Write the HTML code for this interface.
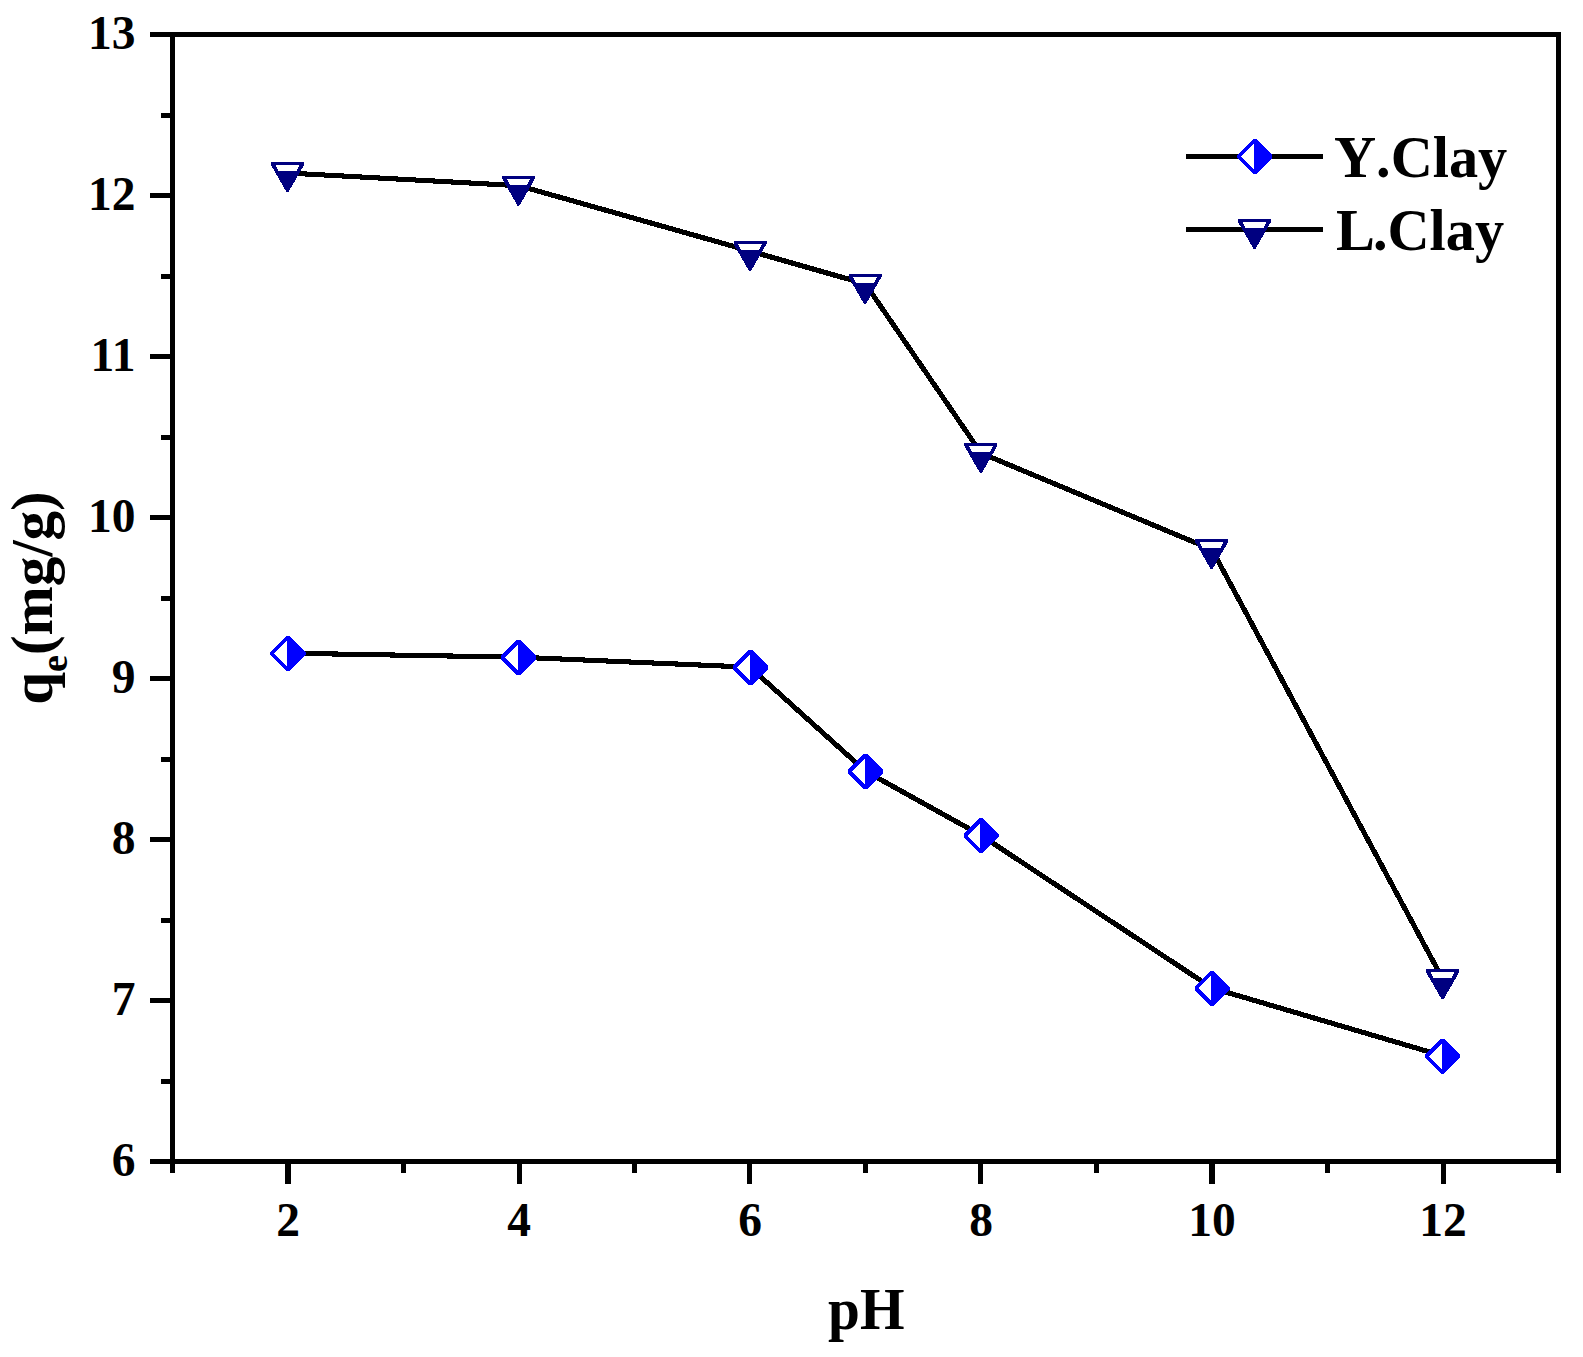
<!DOCTYPE html>
<html lang="en"><head><meta charset="utf-8"><title>qe vs pH</title>
<style>html,body{margin:0;padding:0;background:#fff}svg{display:block}text{font-family:"Liberation Serif",serif;font-weight:bold;fill:#000}</style>
</head><body>
<svg width="1583" height="1357" viewBox="0 0 1583 1357" shape-rendering="crispEdges">
<rect x="0" y="0" width="1583" height="1357" fill="#ffffff"/>
<g fill="none" stroke="#000" stroke-width="5.1" stroke-linejoin="round" stroke-linecap="butt">
<polyline points="288.0,173.0 519.0,185.7 750.0,251.0 865.5,284.0 981.0,453.1 1212.0,549.6 1443.0,979.6"/>
<polyline points="288.0,653.2 519.0,657.2 750.0,667.2 865.5,771.2 981.0,835.3 1212.0,988.0 1443.0,1055.9"/>
</g>
<polygon points="271.00,162.00 304.00,162.00 304.00,165.00 288.50,192.00 286.50,192.00 271.00,165.00" fill="#000080"/><polygon points="275.50,165.00 299.50,165.00 296.40,171.00 278.60,171.00" fill="#fff"/>
<polygon points="502.00,175.50 535.00,175.50 535.00,178.50 519.50,205.50 517.50,205.50 502.00,178.50" fill="#000080"/><polygon points="506.50,178.50 530.50,178.50 527.40,184.50 509.60,184.50" fill="#fff"/>
<polygon points="733.50,241.00 766.50,241.00 766.50,244.00 751.00,271.00 749.00,271.00 733.50,244.00" fill="#000080"/><polygon points="738.00,244.00 762.00,244.00 758.90,250.00 741.10,250.00" fill="#fff"/>
<polygon points="848.50,274.00 881.50,274.00 881.50,277.00 866.00,304.00 864.00,304.00 848.50,277.00" fill="#000080"/><polygon points="853.00,277.00 877.00,277.00 873.90,283.00 856.10,283.00" fill="#fff"/>
<polygon points="964.40,442.90 997.40,442.90 997.40,445.90 981.90,472.90 979.90,472.90 964.40,445.90" fill="#000080"/><polygon points="968.90,445.90 992.90,445.90 989.80,451.90 972.00,451.90" fill="#fff"/>
<polygon points="1195.10,539.00 1228.10,539.00 1228.10,542.00 1212.60,569.00 1210.60,569.00 1195.10,542.00" fill="#000080"/><polygon points="1199.60,542.00 1223.60,542.00 1220.50,548.00 1202.70,548.00" fill="#fff"/>
<polygon points="1426.10,969.30 1459.10,969.30 1459.10,972.30 1443.60,999.30 1441.60,999.30 1426.10,972.30" fill="#000080"/><polygon points="1430.60,972.30 1454.60,972.30 1451.50,978.30 1433.70,978.30" fill="#fff"/>
<polygon points="286.50,635.95 289.50,635.95 305.55,652.00 305.55,655.00 289.50,671.05 286.50,671.05 270.45,655.00 270.45,652.00" fill="#0000ff"/><polygon points="274.40,653.50 287.00,640.90 287.00,666.10" fill="#fff"/>
<polygon points="517.00,639.95 520.00,639.95 536.05,656.00 536.05,659.00 520.00,675.05 517.00,675.05 500.95,659.00 500.95,656.00" fill="#0000ff"/><polygon points="504.90,657.50 517.50,644.90 517.50,670.10" fill="#fff"/>
<polygon points="749.00,649.95 752.00,649.95 768.05,666.00 768.05,669.00 752.00,685.05 749.00,685.05 732.95,669.00 732.95,666.00" fill="#0000ff"/><polygon points="736.90,667.50 749.50,654.90 749.50,680.10" fill="#fff"/>
<polygon points="864.00,753.95 867.00,753.95 883.05,770.00 883.05,773.00 867.00,789.05 864.00,789.05 847.95,773.00 847.95,770.00" fill="#0000ff"/><polygon points="851.90,771.50 864.50,758.90 864.50,784.10" fill="#fff"/>
<polygon points="979.65,818.05 982.65,818.05 998.70,834.10 998.70,837.10 982.65,853.15 979.65,853.15 963.60,837.10 963.60,834.10" fill="#0000ff"/><polygon points="967.55,835.60 980.15,823.00 980.15,848.20" fill="#fff"/>
<polygon points="1210.65,970.75 1213.65,970.75 1229.70,986.80 1229.70,989.80 1213.65,1005.85 1210.65,1005.85 1194.60,989.80 1194.60,986.80" fill="#0000ff"/><polygon points="1198.55,988.30 1211.15,975.70 1211.15,1000.90" fill="#fff"/>
<polygon points="1441.20,1038.65 1444.20,1038.65 1460.25,1054.70 1460.25,1057.70 1444.20,1073.75 1441.20,1073.75 1425.15,1057.70 1425.15,1054.70" fill="#0000ff"/><polygon points="1429.10,1056.20 1441.70,1043.60 1441.70,1068.80" fill="#fff"/>
<g fill="#000">
<rect x="170" y="32" width="5" height="1132"/>
<rect x="1556" y="32" width="5" height="1141"/>
<rect x="170" y="32" width="1391" height="5"/>
<rect x="150" y="1159" width="1411" height="5"/>
<rect x="150" y="1159.0" width="22" height="5"/>
<rect x="150" y="998.0" width="22" height="5"/>
<rect x="150" y="837.0" width="22" height="5"/>
<rect x="150" y="676.0" width="22" height="5"/>
<rect x="150" y="515.0" width="22" height="5"/>
<rect x="150" y="354.0" width="22" height="5"/>
<rect x="150" y="193.0" width="22" height="5"/>
<rect x="150" y="32.0" width="22" height="5"/>
<rect x="161" y="1078.5" width="11" height="5"/>
<rect x="161" y="917.5" width="11" height="5"/>
<rect x="161" y="756.5" width="11" height="5"/>
<rect x="161" y="595.5" width="11" height="5"/>
<rect x="161" y="434.5" width="11" height="5"/>
<rect x="161" y="273.5" width="11" height="5"/>
<rect x="161" y="112.5" width="11" height="5"/>
<rect x="285" y="1162" width="6" height="22"/>
<rect x="517" y="1162" width="5" height="22"/>
<rect x="747" y="1162" width="5" height="22"/>
<rect x="978" y="1162" width="5" height="22"/>
<rect x="1209" y="1162" width="6" height="22"/>
<rect x="1441" y="1162" width="5" height="22"/>
<rect x="170" y="1162" width="5" height="11"/>
<rect x="401" y="1162" width="5" height="11"/>
<rect x="632" y="1162" width="5" height="11"/>
<rect x="863" y="1162" width="5" height="11"/>
<rect x="1094" y="1162" width="5" height="11"/>
<rect x="1325" y="1162" width="5" height="11"/>
<rect x="1556" y="1162" width="5" height="11"/>
</g>
<g font-size="47.5">
<text x="135.5" y="1176.0" text-anchor="end">6</text>
<text x="135.5" y="1015.0" text-anchor="end">7</text>
<text x="135.5" y="854.0" text-anchor="end">8</text>
<text x="135.5" y="693.0" text-anchor="end">9</text>
<text x="135.5" y="532.0" text-anchor="end">10</text>
<text x="135.5" y="371.0" text-anchor="end">11</text>
<text x="135.5" y="210.0" text-anchor="end">12</text>
<text x="135.5" y="49.0" text-anchor="end">13</text>
<text x="288.0" y="1236" text-anchor="middle">2</text>
<text x="519.0" y="1236" text-anchor="middle">4</text>
<text x="750.0" y="1236" text-anchor="middle">6</text>
<text x="981.0" y="1236" text-anchor="middle">8</text>
<text x="1212.0" y="1236" text-anchor="middle">10</text>
<text x="1443.0" y="1236" text-anchor="middle">12</text>
</g>
<text transform="translate(866.3 1329) scale(0.972 1)" font-size="59" text-anchor="middle">pH</text>
<text transform="translate(51.6 598) rotate(-90)" font-size="59" text-anchor="middle">q<tspan font-size="38" dy="15.5">e</tspan><tspan dy="-15.5">(mg/g)</tspan></text>
<g fill="#000"><rect x="1185.7" y="153.9" width="137.5" height="5" rx="1.5"/><rect x="1185.7" y="226.9" width="137.5" height="5" rx="1.5"/></g>
<polygon points="1253.10,138.95 1256.10,138.95 1272.15,155.00 1272.15,158.00 1256.10,174.05 1253.10,174.05 1237.05,158.00 1237.05,155.00" fill="#0000ff"/><polygon points="1241.00,156.50 1253.60,143.90 1253.60,169.10" fill="#fff"/>
<polygon points="1238.00,218.90 1271.00,218.90 1271.00,221.90 1255.50,248.90 1253.50,248.90 1238.00,221.90" fill="#000080"/><polygon points="1242.50,221.90 1266.50,221.90 1263.40,227.90 1245.60,227.90" fill="#fff"/>
<text x="1334" y="176.5" font-size="58.3" style="font-kerning:none">Y.Clay</text>
<text x="1336" y="249.7" font-size="58.3" style="font-kerning:none">L<tspan dx="-2">.Clay</tspan></text>
</svg>
</body></html>
